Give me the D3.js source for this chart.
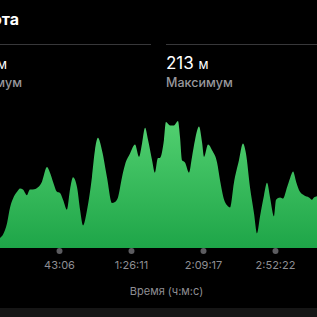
<!DOCTYPE html>
<html>
<head>
<meta charset="utf-8">
<script src="https://cdn.jsdelivr.net/npm/d3@7"></script>
<style>
  html, body { margin: 0; padding: 0; background: #000; }
  svg { display: block; font-family: Inter, "Noto Sans", sans-serif; }
</style>
</head>
<body>
<script>

// elevation profile: time (minutes) and height (m)
var times = [6.0, 7.8, 9.6, 12.0, 13.8, 15.6, 18.0, 19.8, 21.5, 23.9, 25.7, 27.5, 30.5, 32.9, 35.9, 37.7,
  39.5, 41.9, 43.7, 45.5, 47.9, 49.7, 51.5, 53.9, 55.7, 57.5, 59.9, 62.8, 64.6, 66.4, 68.8, 71.8,
  74.8, 76.6, 78.4, 80.8, 82.6, 85.6, 88.6, 91.0, 92.8, 94.6, 96.4, 98.8, 100.5, 102.3, 103.5, 105.9,
  107.1, 109.5, 111.9, 114.3, 115.5, 116.7, 118.5, 120.9, 122.7, 124.5, 126.9, 128.7, 129.9, 132.3,
  134.7, 137.7, 139.5, 141.9, 143.7, 145.5, 147.8, 150.8, 153.2, 155.0, 157.4, 159.8, 161.6, 163.4,
  165.8, 167.6, 169.4, 171.8, 173.0, 175.4, 177.2, 179.6, 181.4, 183.2, 185.0, 187.3, 189.7, 192.7,
  194.5, 195.7, 197.5, 199.0];
var heights = [107, 109, 112, 122, 136, 144, 150, 153, 152, 147, 152, 152, 154, 159, 172, 167,
  159, 150, 149, 143, 134, 152, 163, 154, 134, 120, 134, 163, 187, 198, 187, 163,
  140, 141, 145, 163, 174, 184, 192, 181, 193, 207, 196, 178, 167, 180, 180, 196,
  212, 209, 209, 213, 199, 178, 176, 167, 181, 196, 208, 194, 181, 192,
  187, 176, 160, 143, 138, 136, 158, 178, 193, 184, 154, 131, 113, 128,
  147, 158, 145, 128, 143, 145, 144, 154, 162, 168, 159, 150, 147, 145,
  143, 145, 146, 147];

var totalSeconds = 12928;                      // 3:35:28
var tickSeconds = [2586, 5171, 7757, 10342];
var axisTitle = "Время (ч:м:с)";
var maxValue = 213, minValue = 107;

var data = times.map(function(t, i) { return {t: t, h: heights[i]}; });

var W = 317, H = 317;
var svg = d3.select("body").append("svg")
    .attr("width", W)
    .attr("height", H);

svg.append("rect").attr("width", W).attr("height", H).attr("fill", "#000");

// header (partly scrolled out to the left)
svg.append("text")
    .attr("x", 19).attr("y", 25)
    .attr("text-anchor", "end")
    .attr("fill", "#fff")
    .attr("font-size", 16).attr("font-weight", 700)
    .text("Высота");

svg.append("line").attr("x1", 0).attr("x2", 151).attr("y1", 44.5).attr("y2", 44.5)
    .attr("stroke", "#38383a").attr("stroke-width", 1);
svg.append("line").attr("x1", 166).attr("x2", W).attr("y1", 44.5).attr("y2", 44.5)
    .attr("stroke", "#38383a").attr("stroke-width", 1);

svg.append("text")
    .attr("x", 7).attr("y", 69)
    .attr("text-anchor", "end")
    .attr("fill", "#fff").attr("font-size", 17)
    .html(minValue + ' <tspan font-size="13">м</tspan>');
svg.append("text")
    .attr("x", 22).attr("y", 87)
    .attr("text-anchor", "end")
    .attr("fill", "#98989d").attr("font-size", 12.5).attr("font-weight", 500)
    .text("Минимум");

svg.append("text")
    .attr("x", 166).attr("y", 69)
    .attr("fill", "#fff").attr("font-size", 17)
    .html(maxValue + ' <tspan font-size="13">м</tspan>');
svg.append("text")
    .attr("x", 166).attr("y", 87)
    .attr("fill", "#98989d").attr("font-size", 12.5).attr("font-weight", 500)
    .text("Максимум");

// scales
var xScale = d3.scaleLinear().domain([0, totalSeconds / 60]).range([-13, 347]);
var yScale = d3.scaleLinear().domain([100, 213]).range([248, 121]);

var grad = svg.append("defs").append("linearGradient")
    .attr("id", "g").attr("x1", 0).attr("x2", 0).attr("y1", 0).attr("y2", 1);
grad.append("stop").attr("offset", "0%").attr("stop-color", "#52d070");
grad.append("stop").attr("offset", "100%").attr("stop-color", "#1ea548");

var area = d3.area()
    .x(function(d) { return xScale(d.t); })
    .y0(yScale(100))
    .y1(function(d) { return yScale(d.h); })
    .curve(d3.curveMonotoneX);

svg.append("path")
    .datum(data)
    .attr("d", area)
    .attr("fill", "url(#g)");

// x axis
function fmt(s) {
  var h = Math.floor(s / 3600), m = Math.floor((s % 3600) / 60), sec = s % 60;
  var pad = function(n) { return (n < 10 ? "0" : "") + n; };
  return h > 0 ? h + ":" + pad(m) + ":" + pad(sec) : m + ":" + pad(sec);
}

var xAxis = d3.axisBottom(xScale)
    .tickValues(tickSeconds.map(function(s) { return s / 60; }))
    .tickSize(0)
    .tickPadding(13)
    .tickFormat(function(d) { return fmt(Math.round(d * 60)); });

var ax = svg.append("g")
    .attr("class", "x axis")
    .attr("transform", "translate(0,248)")
    .call(xAxis);
ax.select(".domain").remove();
ax.selectAll("text").attr("fill", "#8e8e93").attr("font-size", 11).attr("font-family", "Inter, sans-serif");
ax.selectAll(".tick").append("circle").attr("cy", 3).attr("r", 3).attr("fill", "#5c5c60");

svg.append("text")
    .attr("x", 166.5).attr("y", 295)
    .attr("text-anchor", "middle")
    .attr("fill", "#8e8e93").attr("font-size", 11)
    .text(axisTitle);

// bottom strip
svg.append("rect").attr("x", 0).attr("y", 308).attr("width", W).attr("height", 9).attr("fill", "#161616");

</script>
</body>
</html>
